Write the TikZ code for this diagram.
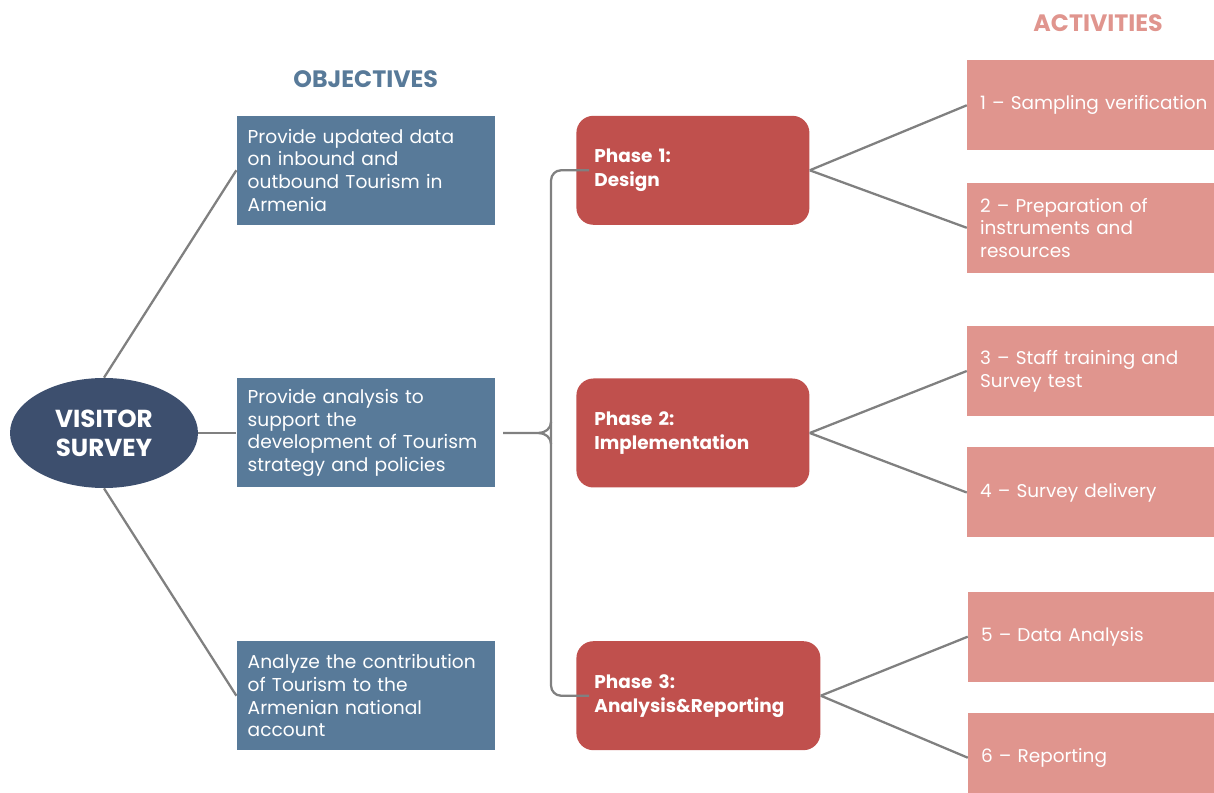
\documentclass[tikz,border=0pt]{standalone}
\usepackage{fontspec}
\setmainfont{Poppins}
\usetikzlibrary{shapes.geometric,positioning}

\definecolor{surveynavy}{RGB}{61,79,110}
\definecolor{objblue}{RGB}{88,122,153}
\definecolor{phasered}{RGB}{192,80,77}
\definecolor{actpink}{RGB}{224,149,142}
\definecolor{linkgray}{RGB}{128,128,128}

\begin{document}
\begin{tikzpicture}[
    survey/.style={ellipse, fill=surveynavy, minimum width=3.76cm, minimum height=2.2cm, inner sep=0pt, align=center, text=white, font=\fontsize{14}{16.6}\selectfont\bfseries},
    objbox/.style={rectangle, fill=objblue, minimum height=2.18cm, text width=4.72cm, inner xsep=0.22cm, align=left, text=white, font=\fontsize{10.6}{12.9}\selectfont},
    phasebox/.style={rectangle, rounded corners=0.34cm, fill=phasered, minimum height=2.18cm, text width=3.94cm, inner xsep=0.36cm, align=left, text=white, font=\fontsize{10.5}{13.6}\selectfont\bfseries},
    actbox/.style={rectangle, fill=actpink, minimum height=1.8cm, text width=4.72cm, inner xsep=0.26cm, align=left, text=white, font=\fontsize{10.5}{12.9}\selectfont},
    head/.style={inner sep=0pt, font=\fontsize{13.5}{16}\selectfont\bfseries},
    link/.style={draw=linkgray, line width=1.3pt}
]
\clip (0,0) rectangle (24.28,-15.86);

\node[survey] (survey) at (2.08,-8.66) {VISITOR\\SURVEY};

% objectives
\node[objbox, right=0.76cm of survey] (obj2) {Provide analysis to\\support the\\development of Tourism\\strategy and policies};
\node[objbox, above=3.06cm of obj2] (obj1) {Provide updated data\\on inbound and\\outbound Tourism in\\Armenia};
\node[objbox, below=3.06cm of obj2] (obj3) {Analyze the contribution\\of Tourism to the\\Armenian national\\account};
\node[head, text=objblue, above=0.55cm of obj1] (objhead) {OBJECTIVES};

% phases
\node[phasebox, right=1.62cm of obj1] (p1) {Phase 1:\\Design};
\node[phasebox, right=1.62cm of obj2] (p2) {Phase 2:\\Implementation};
\node[phasebox, text width=4.16cm, right=1.62cm of obj3] (p3) {Phase 3:\\Analysis\&Reporting};

% activities
\node[actbox, right=3.14cm of p1, yshift=1.30cm] (a1) {1 – Sampling verification};
\node[actbox, right=3.14cm of p1, yshift=-1.15cm] (a2) {2 – Preparation of\\instruments and\\resources};
\node[actbox, right=3.14cm of p2, yshift=1.24cm] (a3) {3 – Staff training and\\Survey test};
\node[actbox, right=3.14cm of p2, yshift=-1.19cm] (a4) {4 – Survey delivery};
\node[actbox, right=2.94cm of p3, yshift=1.18cm] (a5) {5 – Data Analysis};
\node[actbox, right=2.94cm of p3, yshift=-1.24cm] (a6) {6 – Reporting};
\node[head, text=actpink, above=0.55cm of a1] (acthead) {ACTIVITIES};

\coordinate[right=1.12cm of obj2] (fork);

\draw[link] (survey.north) -- (obj1.west);
\draw[link] (survey.east) -- (obj2.west);
\draw[link] (survey.south) -- (obj3.west);

\draw[link] ([xshift=0.16cm]obj2.east) -- ([xshift=-0.25cm]fork) to[out=0,in=-90] ([yshift=0.22cm]fork);
\draw[link] ([xshift=-0.25cm]fork) to[out=0,in=90] ([yshift=-0.22cm]fork);
\draw[link, rounded corners=0.2cm] ([xshift=0.26cm]p1.west) -| (fork) |- ([xshift=0.26cm]p3.west);

\draw[link] (p1.east) -- (a1.west);
\draw[link] (p1.east) -- (a2.west);
\draw[link] (p2.east) -- (a3.west);
\draw[link] (p2.east) -- (a4.west);
\draw[link] (p3.east) -- (a5.west);
\draw[link] (p3.east) -- (a6.west);
\end{tikzpicture}
\end{document}
